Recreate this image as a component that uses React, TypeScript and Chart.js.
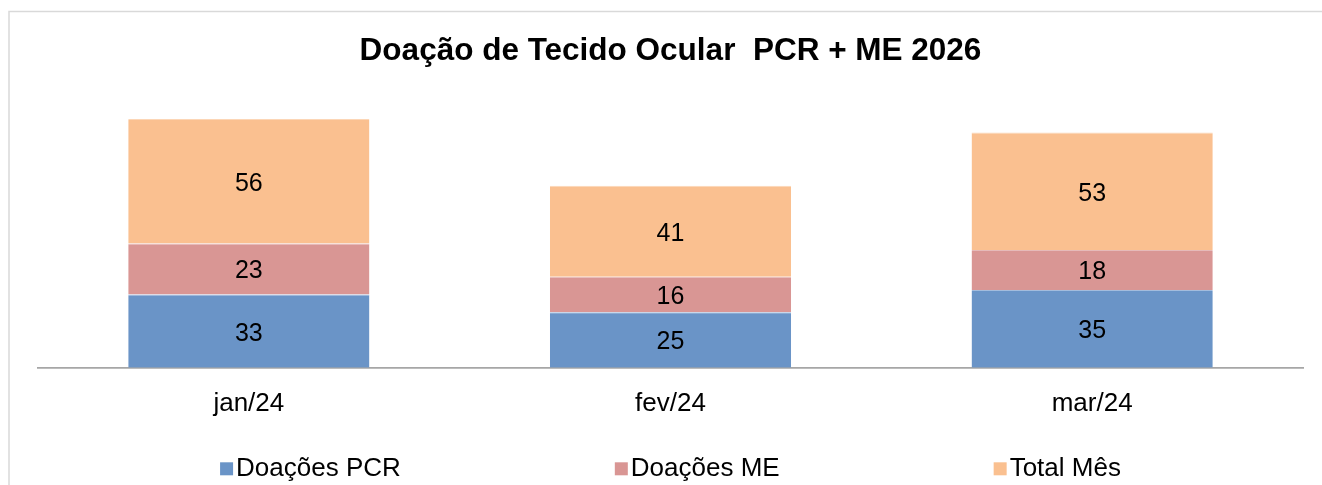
import React, { useEffect, useRef } from "react";
import { Chart, registerables } from "chart.js";

Chart.register(...registerables);

const TITLE = "Doação de Tecido Ocular  PCR + ME 2026";
const categories = ["jan/24", "fev/24", "mar/24"];
const seriesNames = ["Doações PCR", "Doações ME", "Total Mês"];
const doacoesPCR = [33, 25, 35];
const doacoesME = [23, 16, 18];
const totalMes = [56, 41, 53];
const Y_MIN = 0;
const Y_MAX = 120;

const FONT = '"Liberation Sans", Arial, Helvetica, sans-serif';
const COLORS = ["#6A94C7", "#D99694", "#FAC090"];
const EDGES = ["#A3BCDD", "#E6BAB9", "#FCD6B6"];

const framePlugin = {
  id: "frame",
  beforeDraw(chart: any) {
    const ctx = chart.ctx;
    ctx.save();
    ctx.fillStyle = "#ffffff";
    ctx.fillRect(0, 0, chart.width, chart.height);
    ctx.strokeStyle = "#D9D9D9";
    ctx.lineWidth = 1.5;
    ctx.beginPath();
    ctx.moveTo(9, chart.height);
    ctx.lineTo(9, 11.5);
    ctx.lineTo(chart.width, 11.5);
    ctx.stroke();
    ctx.restore();
  },
};

const valueLabelPlugin = {
  id: "valueLabels",
  afterDatasetsDraw(chart: any) {
    const ctx = chart.ctx;
    ctx.save();
    ctx.font = `25px ${FONT}`;
    ctx.fillStyle = "#000000";
    ctx.textAlign = "center";
    ctx.textBaseline = "middle";
    chart.data.datasets.forEach((ds: any, i: number) => {
      const meta = chart.getDatasetMeta(i);
      meta.data.forEach((el: any, j: number) => {
        const p = el.getProps(["x", "y", "base"], true);
        ctx.fillText(String(ds.data[j]), p.x, (p.y + p.base) / 2 + 2.5);
      });
    });
    ctx.restore();
  },
};

const legendPlugin = {
  id: "bottomLegend",
  afterDraw(chart: any) {
    const ctx = chart.ctx;
    const area = chart.chartArea;
    const box = 13;
    const gapText = 3;
    const gapItem = 214;
    ctx.save();
    ctx.font = `26px ${FONT}`;
    const items = chart.data.datasets.map((ds: any) => ({
      text: ds.label as string,
      color: ds.backgroundColor as string,
      w: box + gapText + ctx.measureText(ds.label).width,
    }));
    const total =
      items.reduce((s: number, it: any) => s + it.w, 0) + gapItem * (items.length - 1);
    let x = (area.left + area.right) / 2 - total / 2;
    const cy = area.bottom + 101;
    ctx.textAlign = "left";
    ctx.textBaseline = "middle";
    items.forEach((it: any) => {
      ctx.fillStyle = it.color;
      ctx.fillRect(x, cy - box / 2, box, box);
      ctx.fillStyle = "#000000";
      ctx.fillText(it.text, x + box + gapText, cy);
      x += it.w + gapItem;
    });
    ctx.restore();
  },
};

export default function App() {
  const canvasRef = useRef<HTMLCanvasElement | null>(null);

  useEffect(() => {
    if (!canvasRef.current) return;
    const seriesValues = [doacoesPCR, doacoesME, totalMes];
    const chart = new Chart(canvasRef.current, {
      type: "bar",
      data: {
        labels: categories,
        datasets: seriesNames.map((name, i) => ({
          label: name,
          data: seriesValues[i],
          backgroundColor: COLORS[i],
          borderColor: EDGES[i],
          borderWidth: { top: 1, left: 0, right: 0, bottom: 0 },
          borderSkipped: false,
          categoryPercentage: 1,
          barPercentage: 0.572,
        })),
      },
      options: {
        animation: false,
        responsive: true,
        maintainAspectRatio: false,
        events: [],
        layout: { padding: { left: 38, right: 19, top: 0, bottom: 46 } },
        plugins: {
          legend: { display: false },
          tooltip: { enabled: false },
          title: {
            display: true,
            text: TITLE,
            color: "#000000",
            font: { family: FONT, size: 31.5, weight: "bold", lineHeight: 1.2 },
            padding: { top: 32.5, bottom: 31 },
          },
        },
        scales: {
          x: {
            stacked: true,
            grid: { display: false, drawTicks: false },
            border: { display: true, color: "#A6A6A6", width: 1.7 },
            ticks: {
              color: "#000000",
              padding: 20,
              font: { family: FONT, size: 26, lineHeight: 1.2 },
            },
          },
          y: {
            stacked: true,
            display: false,
            min: Y_MIN,
            max: Y_MAX,
          },
        },
      },
      plugins: [framePlugin, valueLabelPlugin, legendPlugin],
    });
    return () => chart.destroy();
  }, []);

  return (
    <div
      style={{
        position: "fixed",
        left: 0,
        top: 0,
        width: 1322,
        height: 485,
        background: "#ffffff",
      }}
    >
      <canvas ref={canvasRef} style={{ display: "block" }} />
    </div>
  );
}
